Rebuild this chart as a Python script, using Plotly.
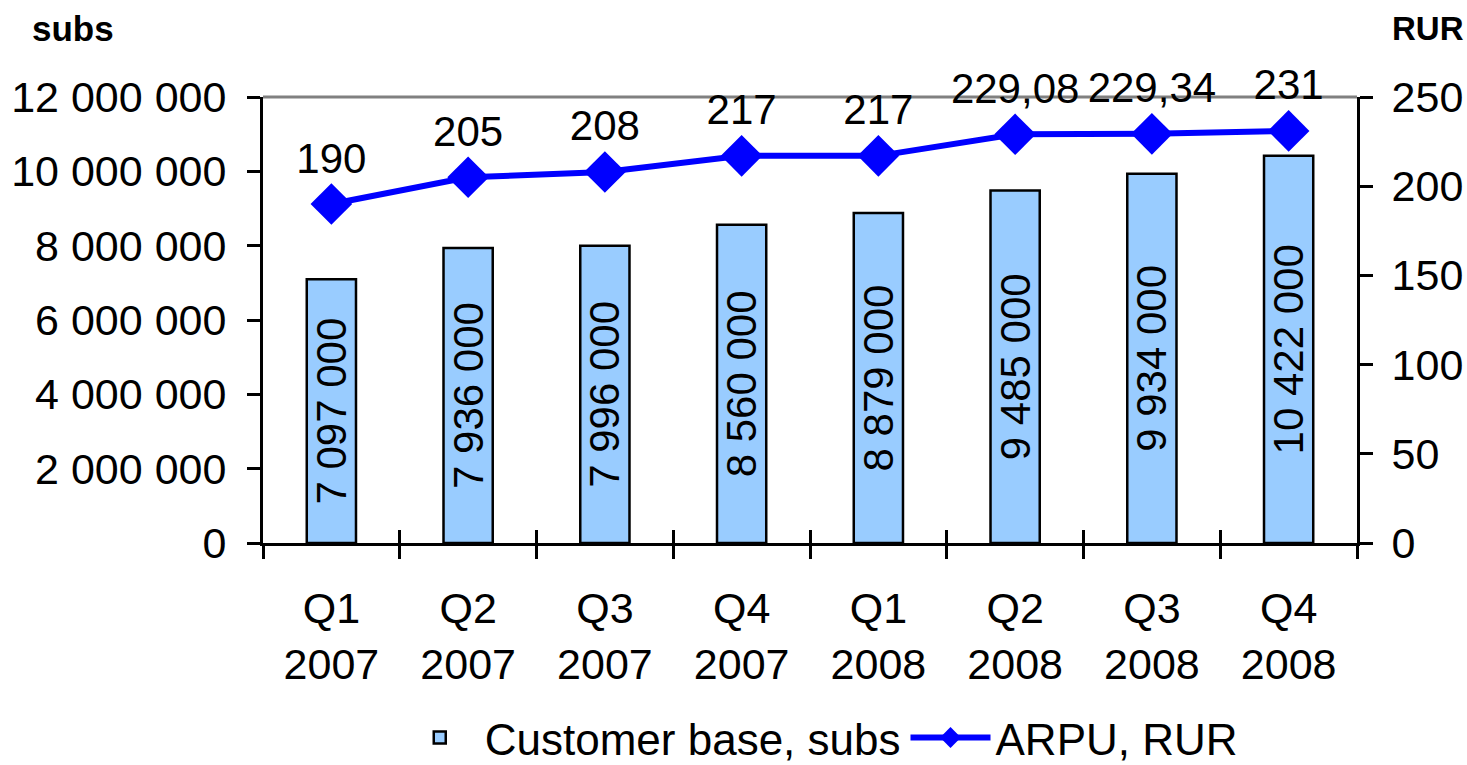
import plotly.graph_objects as go

quarters = ["Q1<br>2007", "Q2<br>2007", "Q3<br>2007", "Q4<br>2007",
            "Q1<br>2008", "Q2<br>2008", "Q3<br>2008", "Q4<br>2008"]
customers = [7097000, 7936000, 7996000, 8560000, 8879000, 9485000, 9934000, 10422000]
arpu = [190, 205, 208, 217, 217, 229.08, 229.34, 231]
left_ticks = [0, 2000000, 4000000, 6000000, 8000000, 10000000, 12000000]
right_ticks = [0, 50, 100, 150, 200, 250]


def fmt_int(v):
    return f"{v:,}".replace(",", " ")


def fmt_arpu(v):
    if float(v).is_integer():
        return str(int(v))
    return f"{v:.2f}".replace(".", ",")


FONT = "Liberation Sans, Arial, sans-serif"
FS = 42
TFS = 43

W, H = 1467, 765
PL, PR, PT, PB = 263, 110, 97, 222
plot_w = W - PL - PR
plot_h = H - PT - PB

fig = go.Figure()
fig.add_trace(go.Bar(
    x=quarters, y=customers, name="Customer base, subs",
    marker=dict(color="#99CCFF", line=dict(color="black", width=2.5)),
    width=0.36,
    text=[fmt_int(v) for v in customers],
    textposition="inside", insidetextanchor="middle", textangle=-90,
    constraintext="none",
    textfont=dict(family=FONT, size=FS, color="black"),
    yaxis="y", xaxis="x",
))
fig.add_trace(go.Scatter(
    x=quarters, y=arpu, name="ARPU, RUR",
    mode="lines+markers+text",
    line=dict(color="#0000FF", width=6),
    marker=dict(symbol="diamond", size=32, color="#0000FF"),
    text=[fmt_arpu(v) for v in arpu],
    textposition="top center", cliponaxis=False,
    textfont=dict(family=FONT, size=FS, color="black"),
    yaxis="y2", xaxis="x",
))
# invisible helper trace so the overlay x axis knows the categories
fig.add_trace(go.Scatter(
    x=quarters, y=[None] * len(quarters), xaxis="x2", yaxis="y",
    showlegend=False, hoverinfo="skip", mode="markers",
))

axis_common = dict(
    showgrid=False, zeroline=False, ticklen=13, tickwidth=3, tickcolor="black",
    automargin=False,
    tickfont=dict(family=FONT, size=TFS, color="black"),
)

fig.update_layout(
    width=W, height=H,
    margin=dict(l=PL, r=PR, t=PT, b=PB, autoexpand=False),
    paper_bgcolor="white", plot_bgcolor="white",
    separators=", ",
    font=dict(family=FONT, size=FS, color="black"),
    showlegend=True,
    legend=dict(orientation="h", x=0.508, xanchor="center", y=-0.437, yanchor="middle",
                font=dict(family=FONT, size=44, color="black"), itemwidth=80,
                bgcolor="rgba(0,0,0,0)"),
    xaxis=dict(axis_common, type="category", tickson="boundaries", ticks="outside",
               showline=True, linecolor="black", linewidth=3, ticklabelstandoff=25,
               range=[-0.5, 7.5]),
    xaxis2=dict(type="category", overlaying="x", anchor="y", side="bottom",
                tickson="boundaries", ticks="inside", ticklen=13, tickwidth=3,
                tickcolor="black", showticklabels=False, showgrid=False,
                zeroline=False, showline=False, range=[-0.5, 7.5], automargin=False,
                categoryorder="array", categoryarray=quarters),
    yaxis=dict(axis_common, range=[0, 12000000], tickvals=left_ticks,
               ticktext=[fmt_int(v) for v in left_ticks], ticks="outside",
               showline=True, linecolor="black", linewidth=3, ticklabelstandoff=12),
    yaxis2=dict(axis_common, range=[0, 250], tickvals=right_ticks, overlaying="y",
                side="right", anchor="x", ticks="outside", showline=True,
                linecolor="black", linewidth=3, ticklabelstandoff=10),
    yaxis3=dict(range=[0, 12000000], tickvals=left_ticks, overlaying="y", side="left",
                anchor="x", ticks="inside", ticklen=13, tickwidth=3, tickcolor="black",
                showticklabels=False, showgrid=False, zeroline=False, showline=False,
                automargin=False),
    yaxis4=dict(range=[0, 250], tickvals=right_ticks, overlaying="y", side="right",
                anchor="x", ticks="inside", ticklen=13, tickwidth=3, tickcolor="black",
                showticklabels=False, showgrid=False, zeroline=False, showline=False,
                automargin=False),
    shapes=[dict(type="line", xref="paper", yref="paper", x0=0, x1=1, y0=1, y1=1,
                 line=dict(color="#808080", width=3), layer="below")],
    annotations=[
        dict(text="<b>subs</b>", xref="paper", yref="paper",
             x=(73 - PL) / plot_w, y=(H - PB - 28) / plot_h,
             xanchor="center", yanchor="middle", showarrow=False,
             font=dict(family=FONT, size=35, color="black")),
        dict(text="<b>RUR</b>", xref="paper", yref="paper",
             x=(1428 - PL) / plot_w, y=(H - PB - 28) / plot_h,
             xanchor="center", yanchor="middle", showarrow=False,
             font=dict(family=FONT, size=33, color="black")),
    ],
)

# remove the default page margin so the figure fills the window exactly
fig.write_html(
    "out.html",
    config={"displayModeBar": False},
    post_script="document.body.style.margin='0';document.body.style.overflow='hidden';",
)
